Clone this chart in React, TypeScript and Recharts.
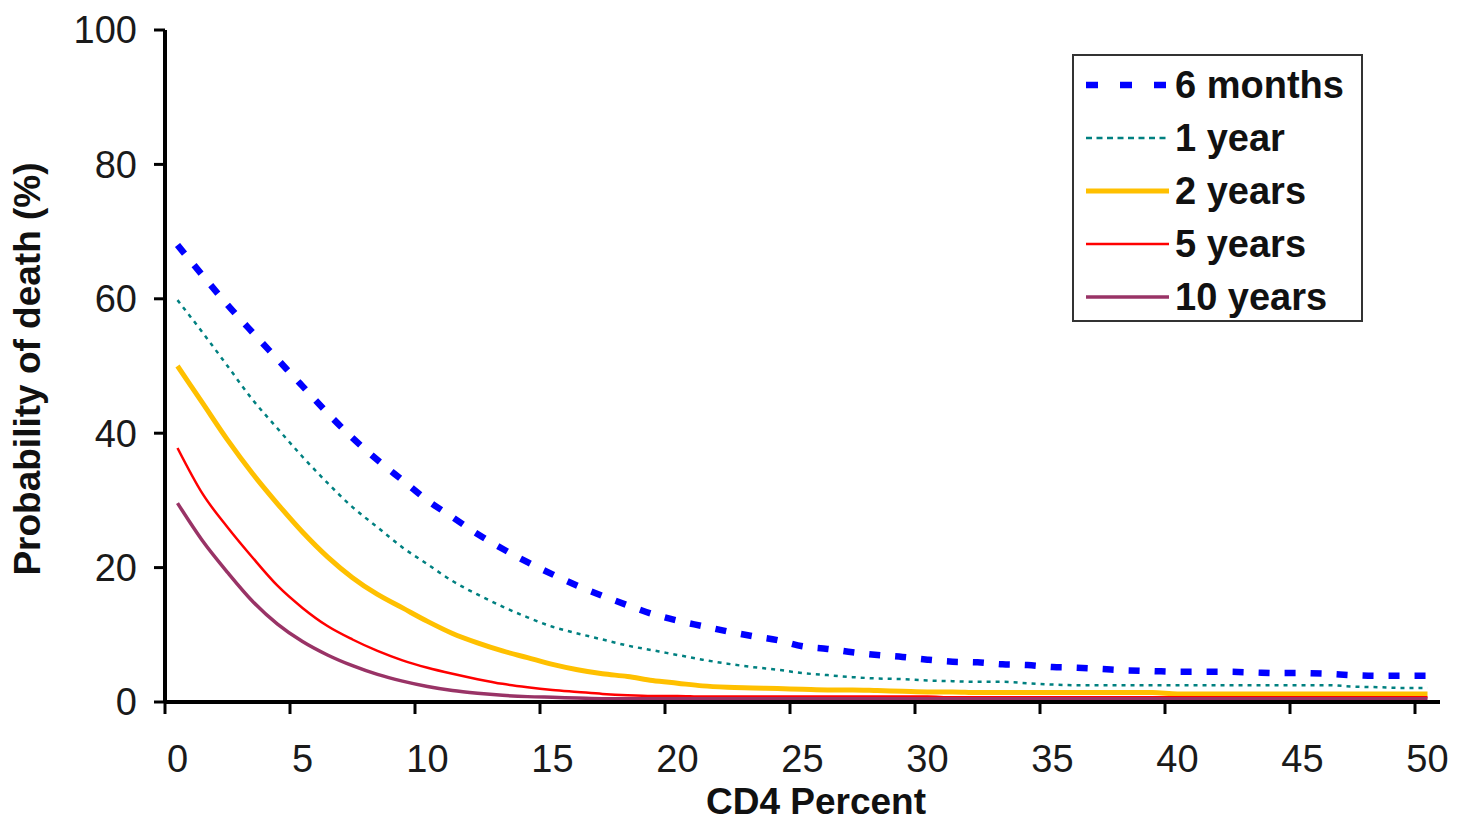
import { Label, Line, LineChart, XAxis, YAxis } from "recharts";

const cd4 = [
  0, 1, 2, 3, 4, 5, 6, 7, 8, 9, 10, 11, 12, 13, 14, 15, 16, 17, 18, 19, 20, 21, 22, 23, 24, 25,
  26, 27, 28, 29, 30, 31, 32, 33, 34, 35, 36, 37, 38, 39, 40, 41, 42, 43, 44, 45, 46, 47, 48, 49, 50,
];

const sixMonths = [
  68, 63.5, 59.1, 55, 51, 47, 43, 39.3, 36, 33, 30, 27.5, 25, 22.8, 20.8, 19, 17.3, 15.8, 14.4, 13.1,
  12.1, 11.3, 10.5, 9.8, 9.2, 8.3, 7.9, 7.4, 7.0, 6.7, 6.3, 6.0, 5.9, 5.6, 5.5, 5.2, 5.1, 4.9, 4.7, 4.6,
  4.5, 4.5, 4.5, 4.4, 4.3, 4.3, 4.2, 4.0, 3.9, 3.9, 3.9,
];

const oneYear = [
  59.8, 55, 50, 45, 40.7, 36.5, 32.6, 29, 26, 23, 20.5, 18, 16, 14.2, 12.6, 11.2, 10.2, 9.3, 8.4, 7.7,
  7.0, 6.3, 5.7, 5.2, 4.8, 4.3, 4.0, 3.7, 3.5, 3.4, 3.2, 3.1, 3.0, 3.0, 2.8, 2.6, 2.5, 2.5, 2.5, 2.5,
  2.5, 2.5, 2.5, 2.5, 2.5, 2.5, 2.5, 2.3, 2.2, 2.1, 2.1,
];

const twoYears = [
  50, 44.5, 39, 34, 29.5, 25.3, 21.6, 18.5, 16, 14, 12, 10.2, 8.8, 7.6, 6.6, 5.6, 4.8, 4.2, 3.8, 3.2,
  2.8, 2.4, 2.2, 2.1, 2.0, 1.9, 1.8, 1.8, 1.7, 1.6, 1.5, 1.5, 1.4, 1.4, 1.4, 1.4, 1.4, 1.4, 1.4, 1.4,
  1.2, 1.2, 1.2, 1.2, 1.2, 1.2, 1.2, 1.2, 1.2, 1.2, 1.2,
];

const fiveYears = [
  37.8, 31, 26, 21.5, 17.3, 14, 11.3, 9.3, 7.6, 6.2, 5.1, 4.2, 3.4, 2.7, 2.2, 1.8, 1.5, 1.2, 1.0, 0.9,
  0.9, 0.8, 0.8, 0.8, 0.8, 0.8, 0.8, 0.8, 0.8, 0.8, 0.8, 0.7, 0.7, 0.7, 0.7, 0.7, 0.7, 0.7, 0.7, 0.7,
  0.7, 0.7, 0.7, 0.7, 0.7, 0.7, 0.7, 0.7, 0.7, 0.7, 0.7,
];

const tenYears = [
  29.6, 24, 19.3, 15, 11.6, 9, 7, 5.4, 4.1, 3.1, 2.3, 1.7, 1.3, 1.0, 0.8, 0.7, 0.6, 0.5, 0.5, 0.5,
  0.5, 0.5, 0.5, 0.5, 0.5, 0.5, 0.5, 0.5, 0.5, 0.5, 0.5, 0.5, 0.5, 0.5, 0.5, 0.5, 0.5, 0.5, 0.5, 0.5,
  0.5, 0.5, 0.5, 0.5, 0.5, 0.5, 0.5, 0.5, 0.5, 0.5, 0.5,
];

// tick marks sit between categories, labels in the middle of each
const xTickEdges = [-0.5, 4.5, 9.5, 14.5, 19.5, 24.5, 29.5, 34.5, 39.5, 44.5, 49.5];
const yTicks = [0, 20, 40, 60, 80, 100];

const series = [
  { key: "m6", name: "6 months", color: "#0000FF", width: 6.5, dash: "11 15", legendDash: "12 22" },
  { key: "y1", name: "1 year", color: "#008080", width: 2.5, dash: "4 5", legendDash: "6 4.5" },
  { key: "y2", name: "2 years", color: "#FFC000", width: 5, dash: undefined, legendDash: undefined },
  { key: "y5", name: "5 years", color: "#FF0000", width: 2.5, dash: undefined, legendDash: undefined },
  { key: "y10", name: "10 years", color: "#993366", width: 3.5, dash: undefined, legendDash: undefined },
];

const data = cd4.map((x, i) => ({
  x,
  m6: sixMonths[i],
  y1: oneYear[i],
  y2: twoYears[i],
  y5: fiveYears[i],
  y10: tenYears[i],
}));

const FONT = "'Liberation Sans', Arial, sans-serif";

function XTick(props: any) {
  const { x, y, payload } = props;
  return (
    <text x={x + 12.5} y={y} dy="0.71em" textAnchor="middle" fontFamily={FONT} fontSize={38} fill="#1a1a1a">
      {String(payload.value + 0.5)}
    </text>
  );
}

function LegendBox() {
  return (
    <div
      style={{
        position: "absolute",
        left: 1072,
        top: 54,
        width: 287,
        height: 264,
        border: "2px solid #333",
        background: "#fff",
        fontFamily: FONT,
      }}
    >
      {series.map((s, i) => (
        <div
          key={s.key}
          style={{ position: "absolute", left: 0, top: 6 + i * 53, height: 46, display: "flex", alignItems: "center" }}
        >
          <svg width={100} height={20} style={{ display: "block" }}>
            <line
              x1={12}
              x2={95}
              y1={10}
              y2={10}
              stroke={s.color}
              strokeWidth={s.width}
              strokeDasharray={s.legendDash}
            />
          </svg>
          <span style={{ fontSize: 38, fontWeight: "bold", color: "#111", whiteSpace: "nowrap", marginLeft: 1 }}>
            {s.name}
          </span>
        </div>
      ))}
    </div>
  );
}

export default function App() {
  return (
    <div style={{ position: "absolute", left: 0, top: 0, width: 1461, height: 821, background: "#fff" }}>
      <LineChart width={1461} height={821} data={data} margin={{ top: 30, right: 21, bottom: 0, left: 0 }}>
        <XAxis
          dataKey="x"
          type="number"
          domain={[-0.5, 50.5]}
          ticks={xTickEdges}
          interval={0}
          height={119}
          axisLine={{ stroke: "#000", strokeWidth: 4 }}
          tickLine={{ stroke: "#000", strokeWidth: 3 }}
          tickSize={12}
          tickMargin={31}
          tick={<XTick />}
        >
          <Label
            content={() => (
              <text x={816} y={814} textAnchor="middle" fontFamily={FONT} fontSize={37} fontWeight="bold" fill="#111">
                CD4 Percent
              </text>
            )}
          />
        </XAxis>
        <YAxis
          type="number"
          domain={[0, 100]}
          ticks={yTicks}
          width={165}
          axisLine={{ stroke: "#000", strokeWidth: 4 }}
          tickLine={{ stroke: "#000", strokeWidth: 3 }}
          tickSize={11}
          tickMargin={17}
          tick={{ fontFamily: FONT, fontSize: 38, fill: "#1a1a1a" }}
        >
          <Label
            content={() => (
              <text
                x={40}
                y={369}
                transform="rotate(-90 40 369)"
                textAnchor="middle"
                fontFamily={FONT}
                fontSize={37}
                fontWeight="bold"
                fill="#111"
              >
                Probability of death (%)
              </text>
            )}
          />
        </YAxis>
        {series.map((s) => (
          <Line
            key={s.key}
            type="monotone"
            dataKey={s.key}
            name={s.name}
            stroke={s.color}
            strokeWidth={s.width}
            strokeDasharray={s.dash}
            dot={false}
            activeDot={false}
            isAnimationActive={false}
          />
        ))}
      </LineChart>
      <LegendBox />
    </div>
  );
}
